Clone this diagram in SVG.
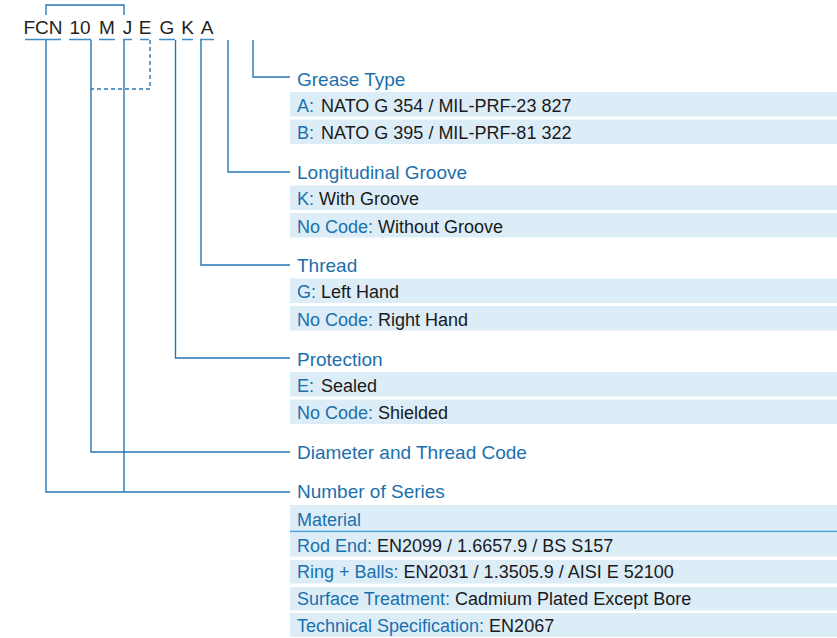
<svg xmlns="http://www.w3.org/2000/svg" width="837" height="638" viewBox="0 0 837 638">
<style>
.code{font-family:"Liberation Sans",Arial,sans-serif;font-size:19px;fill:#231f20;text-anchor:middle}
.title{font-family:"Liberation Sans",Arial,sans-serif;font-size:19px;fill:#1a70ad}
.row{font-family:"Liberation Sans",Arial,sans-serif;font-size:18px;fill:#1a1a1a}
.k{fill:#1a70ad}
.bg{fill:#dcedf8}
.ln{fill:none;stroke:#2677b5;stroke-width:1.4}
.ul{fill:none;stroke:#3d8dc6;stroke-width:1.5}
.dash{fill:none;stroke:#2677b5;stroke-width:1.4;stroke-dasharray:4 3}
</style>
<rect width="837" height="638" fill="#ffffff"/>
<g id="code">
<text class="code" x="43" y="34">FCN</text>
<text class="code" x="80" y="34">10</text>
<text class="code" x="107" y="34">M</text>
<text class="code" x="127.5" y="34">J</text>
<text class="code" x="145" y="34">E</text>
<text class="code" x="167" y="34">G</text>
<text class="code" x="187.5" y="34">K</text>
<text class="code" x="207" y="34">A</text>
<path class="ul" d="M25 39.5H61M69 39.5H91M99 39.5H115M123 39.5H132M140 39.5H149M159 39.5H175M182 39.5H193M200 39.5H214"/>
</g>
<g id="connectors">
<path class="ln" d="M46 15V5H124V15"/>
<path class="ln" d="M253 40V77H290"/>
<path class="ln" d="M228 40V172H290"/>
<path class="ln" d="M201 40V265H290"/>
<path class="ln" d="M175.5 40V358H290"/>
<path class="ln" d="M91 40V452H290"/>
<path class="ln" d="M46 40V492H290"/>
<path class="ln" d="M124 40V492"/>
<path class="dash" d="M150 40V89H91"/>
</g>
<g id="grease">
<text class="title" x="297" y="86">Grease Type</text>
<rect class="bg" x="290" y="92" width="547" height="24.5"/>
<rect class="bg" x="290" y="119.5" width="547" height="24.5"/>
<text class="row" x="297" y="111.5"><tspan class="k">A:</tspan><tspan x="321">NATO G 354 / MIL-PRF-23 827</tspan></text>
<text class="row" x="297" y="139"><tspan class="k">B:</tspan><tspan x="321">NATO G 395 / MIL-PRF-81 322</tspan></text>
</g>
<g id="groove">
<text class="title" x="297" y="178.5">Longitudinal Groove</text>
<rect class="bg" x="290" y="185.5" width="547" height="24.5"/>
<rect class="bg" x="290" y="213" width="547" height="24.5"/>
<text class="row" x="297" y="205"><tspan class="k">K:</tspan> With Groove</text>
<text class="row" x="297" y="232.5"><tspan class="k">No Code:</tspan> Without Groove</text>
</g>
<g id="thread">
<text class="title" x="297" y="272">Thread</text>
<rect class="bg" x="290" y="278.5" width="547" height="24.5"/>
<rect class="bg" x="290" y="306" width="547" height="24.5"/>
<text class="row" x="297" y="298"><tspan class="k">G:</tspan> Left Hand</text>
<text class="row" x="297" y="325.5"><tspan class="k">No Code:</tspan> Right Hand</text>
</g>
<g id="protection">
<text class="title" x="297" y="366">Protection</text>
<rect class="bg" x="290" y="372" width="547" height="24.5"/>
<rect class="bg" x="290" y="399.5" width="547" height="24.5"/>
<text class="row" x="297" y="391.5"><tspan class="k">E:</tspan><tspan x="321">Sealed</tspan></text>
<text class="row" x="297" y="419"><tspan class="k">No Code:</tspan> Shielded</text>
</g>
<g id="diameter">
<text class="title" x="297" y="459">Diameter and Thread Code</text>
</g>
<g id="series">
<text class="title" x="297" y="498">Number of Series</text>
<rect class="bg" x="290" y="505" width="547" height="26"/>
<line x1="290" y1="531.5" x2="837" y2="531.5" stroke="#3fa0dc" stroke-width="1.6"/>
<text class="row k" x="297" y="525.5">Material</text>
<rect class="bg" x="290" y="533" width="547" height="23.5"/>
<rect class="bg" x="290" y="560" width="547" height="23.5"/>
<rect class="bg" x="290" y="587" width="547" height="23.5"/>
<rect class="bg" x="290" y="613" width="547" height="24"/>
<text class="row" x="297" y="551.5"><tspan class="k">Rod End:</tspan> EN2099 / 1.6657.9 / BS S157</text>
<text class="row" x="297" y="578"><tspan class="k">Ring + Balls:</tspan> EN2031 / 1.3505.9 / AISI E 52100</text>
<text class="row" x="297" y="605"><tspan class="k">Surface Treatment:</tspan> Cadmium Plated Except Bore</text>
<text class="row" x="297" y="631.5"><tspan class="k">Technical Specification:</tspan> EN2067</text>
</g>
</svg>
